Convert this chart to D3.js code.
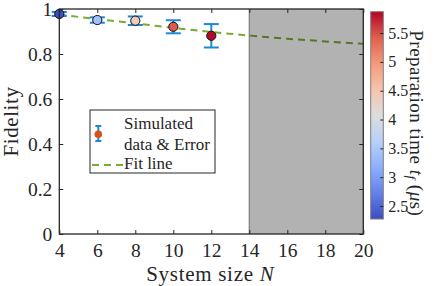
<!DOCTYPE html>
<html lang="en">
  <head>
    <meta charset="UTF-8" />
    <title>Fidelity vs system size</title>
    <script src="https://d3js.org/d3.v7.min.js"></script>
    <style>
      body {
        margin: 0;
        background: #fff;
      }
      svg, svg text {
        font-family: "Liberation Serif", "Times New Roman", serif;
      }
    </style>
  </head>
  <body>
    <div id="chart"></div>
    <script>
      // data
      const sizes = [4, 6, 8, 10, 12];
      const fidelity = [0.978, 0.951, 0.948, 0.921, 0.881];
      const errors = [0.009, 0.012, 0.019, 0.029, 0.052];
      const prepTime = [2.3, 3.4, 4.4, 5.45, 5.85];

      const fitN = [4, 6, 8, 10, 12, 14, 16, 18, 20];
      const fitF = [0.975, 0.955, 0.936, 0.916, 0.898, 0.882, 0.868, 0.856, 0.845];

      const xTicks = [4, 6, 8, 10, 12, 14, 16, 18, 20];
      const yTicks = [0, 0.2, 0.4, 0.6, 0.8, 1];
      const cTicks = [2.5, 3, 3.5, 4, 4.5, 5, 5.5];
      const shadeRange = [14, 20];

      const width = 436;
      const height = 286;
      const plot = { left: 59.3, right: 363.3, top: 9, bottom: 234 };
      const serif = '"Liberation Serif", "Times New Roman", serif';

      const svg = d3
        .select("#chart")
        .append("svg")
        .attr("width", width)
        .attr("height", height);

      const x = d3.scaleLinear().domain([4, 20]).range([plot.left, plot.right]);
      const y = d3.scaleLinear().domain([0, 1]).range([plot.bottom, plot.top]);

      // coolwarm-like map
      const cwStops = ["#3b4cc0", "#6282ea", "#8db0fe", "#b8d0f9", "#dddddd", "#f5c4ad", "#f49a7b", "#de604d", "#b40426"];
      const cDomain = [2.275, 5.87];
      const cw = d3.scaleLinear()
        .domain(d3.range(cwStops.length).map((i) => i / (cwStops.length - 1)))
        .range(cwStops)
        .interpolate(d3.interpolateRgb);
      const cNorm = d3.scaleLinear().domain(cDomain).range([0, 1]).clamp(true);
      const color = (v) => cw(cNorm(v));

      const axisColor = "#262626";
      const errColor = "#1f88d2";
      const fitColor = "#77ac30";

      // fit line
      const line = d3
        .line()
        .x((d, i) => x(fitN[i]))
        .y((d) => y(d))
        .curve(d3.curveMonotoneX);

      svg.append("path")
        .datum(fitF)
        .attr("d", line)
        .attr("fill", "none")
        .attr("stroke", fitColor)
        .attr("stroke-width", 2)
        .attr("stroke-dasharray", "7,5");

      // error bars
      const eb = svg.append("g").attr("stroke", errColor).attr("stroke-width", 2);
      sizes.forEach((n, i) => {
        const cx = x(n);
        const lo = y(fidelity[i] - errors[i]);
        const hi = y(fidelity[i] + errors[i]);
        eb.append("line").attr("x1", cx).attr("x2", cx).attr("y1", lo).attr("y2", hi);
        eb.append("line").attr("x1", cx - 7.5).attr("x2", cx + 7.5).attr("y1", lo).attr("y2", lo);
        eb.append("line").attr("x1", cx - 7.5).attr("x2", cx + 7.5).attr("y1", hi).attr("y2", hi);
      });

      svg.append("g")
        .selectAll("circle")
        .data(sizes)
        .join("circle")
        .attr("cx", (d) => x(d))
        .attr("cy", (d, i) => y(fidelity[i]))
        .attr("r", 4.6)
        .attr("fill", (d, i) => color(prepTime[i]))
        .attr("stroke", "#111")
        .attr("stroke-width", 1);

      // shaded region (unreachable sizes)
      svg.append("rect")
        .attr("x", x(shadeRange[0]))
        .attr("y", plot.top)
        .attr("width", x(shadeRange[1]) - x(shadeRange[0]))
        .attr("height", plot.bottom - plot.top)
        .attr("fill", "#000")
        .attr("fill-opacity", 0.3);
      svg.append("line")
        .attr("x1", x(shadeRange[0])).attr("x2", x(shadeRange[0]))
        .attr("y1", plot.top).attr("y2", plot.bottom)
        .attr("stroke", "#7a7a7a")
        .attr("stroke-width", 1.2);

      // axes (box with inward ticks)
      const tl = 4;
      const fmt = (d) => (d === 0 || d === 1 ? String(d) : d3.format(".1f")(d));
      svg.append("g")
        .attr("transform", `translate(0,${plot.bottom})`)
        .call(d3.axisBottom(x).tickValues(xTicks).tickSize(-tl).tickPadding(9).tickSizeOuter(0))
        .call((g) => g.select(".domain").remove());
      svg.append("g")
        .attr("transform", `translate(0,${plot.top})`)
        .call(d3.axisTop(x).tickValues(xTicks).tickSize(-tl).tickFormat("").tickSizeOuter(0))
        .call((g) => g.select(".domain").remove());
      svg.append("g")
        .attr("transform", `translate(${plot.left},0)`)
        .call(d3.axisLeft(y).tickValues(yTicks).tickSize(-tl).tickPadding(7).tickFormat(fmt).tickSizeOuter(0))
        .call((g) => g.select(".domain").remove());
      svg.append("g")
        .attr("transform", `translate(${plot.right},0)`)
        .call(d3.axisRight(y).tickValues(yTicks).tickSize(-tl).tickFormat("").tickSizeOuter(0))
        .call((g) => g.select(".domain").remove());

      svg.selectAll("g").attr("font-family", serif);
      svg.selectAll(".tick line").attr("stroke", axisColor).attr("stroke-width", 1);
      svg.selectAll(".tick text")
        .attr("fill", axisColor)
        .style("font-size", "19.5px");

      svg.append("rect")
        .attr("x", plot.left)
        .attr("y", plot.top)
        .attr("width", plot.right - plot.left)
        .attr("height", plot.bottom - plot.top)
        .attr("fill", "none")
        .attr("stroke", axisColor)
        .attr("stroke-width", 1.3);

      // axis labels
      svg.append("text")
        .attr("transform", `translate(18,${(plot.top + plot.bottom) / 2}) rotate(-90)`)
        .attr("text-anchor", "middle")
        .attr("fill", axisColor)
        .style("font-size", "21px")
        .style("letter-spacing", "0.6px")
        .text("Fidelity");

      const xl = svg.append("text")
        .attr("x", (plot.left + plot.right) / 2 - 1)
        .attr("y", 281)
        .attr("text-anchor", "middle")
        .attr("fill", axisColor)
        .style("font-size", "21px")
        .style("letter-spacing", "0.7px");
      xl.append("tspan").text("System size ");
      xl.append("tspan").attr("font-style", "italic").text("N");

      // legend
      const lg = svg.append("g").attr("transform", "translate(90,110)");
      lg.append("rect")
        .attr("width", 125)
        .attr("height", 63)
        .attr("fill", "#fff")
        .attr("stroke", axisColor)
        .attr("stroke-width", 1);
      lg.append("line").attr("x1", 8.3).attr("x2", 8.3).attr("y1", 16).attr("y2", 31)
        .attr("stroke", errColor).attr("stroke-width", 2);
      lg.append("line").attr("x1", 5.3).attr("x2", 11.3).attr("y1", 16).attr("y2", 16)
        .attr("stroke", errColor).attr("stroke-width", 2);
      lg.append("line").attr("x1", 5.3).attr("x2", 11.3).attr("y1", 31).attr("y2", 31)
        .attr("stroke", errColor).attr("stroke-width", 2);
      lg.append("circle").attr("cx", 8.3).attr("cy", 24.3).attr("r", 3.8).attr("fill", "#d95319");
      lg.append("line").attr("x1", 2).attr("x2", 33).attr("y1", 55).attr("y2", 55)
        .attr("stroke", fitColor).attr("stroke-width", 2).attr("stroke-dasharray", "7,5");
      const legendText = [["Simulated", 19], ["data & Error", 40], ["Fit line", 59]];
      lg.selectAll("text.lt")
        .data(legendText)
        .join("text")
        .attr("class", "lt")
        .attr("x", 34)
        .attr("y", (d) => d[1])
        .attr("fill", axisColor)
        .style("font-size", "17px")
        .text((d) => d[0]);

      // colorbar
      const cb = { left: 370.7, width: 12.6, top: 11.7, bottom: 219 };
      const cy = d3.scaleLinear().domain(cDomain).range([cb.bottom, cb.top]);
      const defs = svg.append("defs");
      const grad = defs.append("linearGradient")
        .attr("id", "cbgrad")
        .attr("x1", 0).attr("x2", 0).attr("y1", 1).attr("y2", 0);
      grad.selectAll("stop")
        .data(cwStops)
        .join("stop")
        .attr("offset", (d, i) => i / (cwStops.length - 1))
        .attr("stop-color", (d) => d);
      svg.append("rect")
        .attr("x", cb.left)
        .attr("y", cb.top)
        .attr("width", cb.width)
        .attr("height", cb.bottom - cb.top)
        .attr("fill", "url(#cbgrad)")
        .attr("stroke", "#7f7f7f")
        .attr("stroke-width", 1);
      const cAxis = svg.append("g")
        .attr("transform", `translate(${cb.left + cb.width},0)`)
        .call(d3.axisRight(cy).tickValues(cTicks).tickSize(-3).tickPadding(5).tickFormat(d3.format("~g")).tickSizeOuter(0))
        .call((g) => g.select(".domain").remove());
      cAxis.attr("font-family", serif);
      cAxis.selectAll(".tick line").attr("stroke", axisColor);
      cAxis.selectAll(".tick text")
        .attr("fill", axisColor)
        .style("font-size", "16px");

      const cl = svg.append("text")
        .attr("transform", `translate(410,${(cb.top + cb.bottom) / 2 + 8}) rotate(90)`)
        .attr("text-anchor", "middle")
        .attr("fill", axisColor)
        .style("font-size", "19px")
        .style("letter-spacing", "0.5px");
      cl.append("tspan").text("Preparation time ");
      cl.append("tspan").attr("font-style", "italic").text("t");
      cl.append("tspan").attr("font-style", "italic").attr("font-size", "13px").attr("dy", 3).text("f");
      cl.append("tspan").attr("dy", -3).text(" (");
      cl.append("tspan").attr("font-style", "italic").text("μ");
      cl.append("tspan").text("s)");
    </script>
  </body>
</html>
